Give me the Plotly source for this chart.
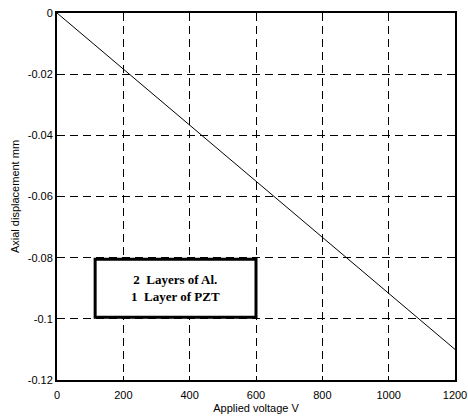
import plotly.graph_objects as go

voltage = [0, 1200]
displacement = [0, -0.11]

x_ticks = [0, 200, 400, 600, 800, 1000, 1200]
y_ticks = [0, -0.02, -0.04, -0.06, -0.08, -0.1, -0.12]
y_ticktext = ["0", "-0.02", "-0.04", "-0.06", "-0.08", "-0.1", "-0.12"]

box_x = [115, 600]
box_y = [-0.0805, -0.0995]
box_text = "<b>2  Layers of Al.</b><br><b>1  Layer of PZT</b>"

fig = go.Figure()
fig.add_trace(go.Scatter(x=voltage, y=displacement, mode="lines",
                         line=dict(color="black", width=1), showlegend=False))

fig.add_shape(type="rect", xref="x", yref="y",
              x0=box_x[0], x1=box_x[1], y0=box_y[0], y1=box_y[1],
              line=dict(color="black", width=3), fillcolor="white", layer="above")
fig.add_annotation(x=(box_x[0] + box_x[1]) / 2, y=(box_y[0] + box_y[1]) / 2,
                   xref="x", yref="y", text=box_text, showarrow=False,
                   font=dict(family="Liberation Serif", size=13, color="black"),
                   align="center")

axis_common = dict(showline=True, linecolor="black", linewidth=2, mirror=True,
                   showgrid=True, gridcolor="black", gridwidth=1, griddash="8px,5px",
                   zeroline=False, ticks="inside", ticklen=4, tickcolor="black",
                   automargin=False,
                   tickfont=dict(family="Liberation Sans", size=11, color="black"))

fig.update_xaxes(range=[0, 1200], tickvals=x_ticks, ticklabelstandoff=4,
                 title=dict(text="Applied voltage V", standoff=4,
                            font=dict(family="Liberation Sans", size=11, color="black")),
                 **axis_common)
fig.update_yaxes(range=[-0.12, 0], tickvals=y_ticks, ticktext=y_ticktext,
                 title=dict(text="Axial displacement mm", standoff=6,
                            font=dict(family="Liberation Sans", size=11, color="black")),
                 **axis_common)

fig.update_layout(width=468, height=416, margin=dict(l=57, r=13, t=13, b=36),
                  plot_bgcolor="white", paper_bgcolor="white")

fig.write_html("out.html")
